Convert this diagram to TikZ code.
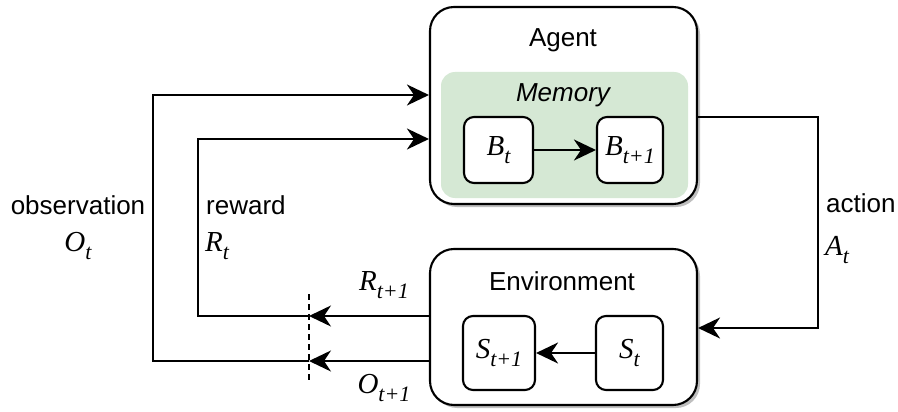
\documentclass[tikz,border=0pt]{standalone}
\usepackage{fontspec}
\setmainfont{Liberation Sans}
\newfontfamily\serfont{Liberation Serif}
\usetikzlibrary{arrows.meta,shadows}
\definecolor{memgreen}{HTML}{D5E8D4}
\newcommand{\MV}[2]{{\fontsize{29}{32}\selectfont\serfont\itshape #1\raisebox{-0.3em}{\fontsize{22}{24}\selectfont #2}}}
\begin{document}
\begin{tikzpicture}[x=1pt,y=-1pt,
  lw/.style={line width=2.1pt},
  bigbox/.style={draw,lw,rounded corners=24pt,fill=white,inner sep=0pt,
    drop shadow={shadow xshift=3pt,shadow yshift=-3pt,fill=black!25,opacity=1}},
  smallbox/.style={draw,lw,rounded corners=10pt,fill=white,inner sep=0pt},
  arr/.style={lw,-{Stealth[length=22pt,width=21pt,inset=7pt]}},
  lbl/.style={font=\fontsize{26}{30}\selectfont,inner sep=0pt}]
\useasboundingbox (0,0) rectangle (898,412);
% Agent
\node[bigbox,minimum width=267pt,minimum height=197pt] (agent) at (563.5,105.5) {};
\node[lbl] (agenttxt) at (563,40) {Agent};
\node[fill=memgreen,rounded corners=14pt,minimum width=247pt,minimum height=126pt,inner sep=0pt] (mem) at (564.5,135) {};
\node[lbl,font=\fontsize{26}{30}\selectfont\itshape] (memtxt) at (563,95) {Memory};
\node[smallbox,minimum width=69pt,minimum height=66pt] (bt) at (498.5,150) {\MV{B}{t}};
\node[smallbox,minimum width=66pt,minimum height=66pt] (bt1) at (630,150) {\MV{B}{t+1}};
\draw[arr] (bt) -- (bt1);
% Environment
\node[bigbox,minimum width=267pt,minimum height=156pt] (env) at (563.5,327) {};
\node[lbl] (envtxt) at (562,281) {Environment};
\node[smallbox,minimum width=72pt,minimum height=74pt] (st1) at (499,353) {\MV{S}{t+1}};
\node[smallbox,minimum width=67pt,minimum height=74pt] (st) at (629.5,353) {\MV{S}{t}};
\draw[arr] (st) -- (st1);
% dashed line
\coordinate (dtop) at (309,294);
\coordinate (dbot) at (309,381);
\draw[lw,dash pattern=on 6pt off 4pt] (dtop) -- (dbot);
% reward path
\coordinate (rdash) at (309,316);
\coordinate (rcorner) at (198,316);
\coordinate (rtop) at (198,139);
\draw[arr] (env.west |- rdash) -- (rdash);
\draw[arr] (rdash) -- (rcorner) -- (rtop) -- (agent.west |- rtop);
% observation path
\coordinate (odash) at (309,361);
\coordinate (ocorner) at (153,361);
\coordinate (otop) at (153,95);
\draw[arr] (env.west |- odash) -- (odash);
\draw[arr] (odash) -- (ocorner) -- (otop) -- (agent.west |- otop);
% action path
\coordinate (aout) at (818,117);
\coordinate (ain) at (818,328);
\draw[arr] (agent.east |- aout) -- (aout) -- (ain) -- (env.east |- ain);
% labels
\node[lbl] (obslbl) at (78,205) {observation};
\node[inner sep=0pt] (otlbl) at (78,246) {\MV{O}{t}};
\node[lbl,anchor=west] (rewlbl) at (206,205) {reward};
\node[inner sep=0pt,anchor=west] (rtlbl) at (205,246) {\MV{R}{t}};
\node[lbl,anchor=west] (actlbl) at (826,203) {action};
\node[inner sep=0pt,anchor=west] (atlbl) at (825,250) {\MV{A}{t}};
\node[inner sep=0pt] (rt1lbl) at (384,285) {\MV{R}{t+1}};
\node[inner sep=0pt] (ot1lbl) at (384,388) {\MV{O}{t+1}};
\end{tikzpicture}
\end{document}
